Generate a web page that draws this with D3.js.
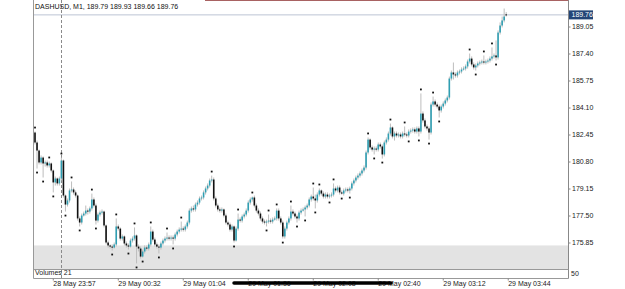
<!DOCTYPE html>
<html>
<head>
<meta charset="utf-8">
<script src="https://cdn.jsdelivr.net/npm/d3@7"></script>
<style>
  body { margin: 0; background: #fff; }
  svg { display: block; font-family: "Liberation Sans", Arial, sans-serif; }
</style>
</head>
<body>
<script>
// DATA (M1 candles)
const chartTitle = "DASHUSD, M1, 189.79 189.93 189.66 189.76";

const opens = [
  182.57,181.96,181.47,180.74,181.04,180.68,180.74,180.56,180.68,180.25,
  179.52,179.76,179.46,179.76,180.86,178.72,178.17,178.42,179.03,179.09,
  178.91,178.72,177.32,177.07,177.50,177.62,177.80,177.74,177.93,178.48,
  178.11,177.19,177.56,177.68,177.74,176.89,175.85,175.67,175.60,175.54,
  175.73,176.83,176.70,176.09,176.22,175.79,175.67,175.60,175.97,176.09,
  176.28,175.60,175.48,174.99,175.30,175.54,175.48,175.73,176.52,176.03,
  175.73,175.60,175.54,175.79,175.97,176.09,176.15,176.09,176.15,176.09,
  176.34,176.52,176.64,176.70,176.64,176.83,177.07,177.80,177.93,177.87,
  178.17,178.29,178.54,178.60,178.91,179.15,179.33,179.64,179.70,178.54,
  178.11,177.87,177.80,177.87,177.50,177.07,176.95,176.64,176.83,175.97,
  176.70,177.25,177.19,177.44,177.56,177.80,178.29,178.48,178.60,178.11,
  177.80,177.62,177.32,177.13,177.07,177.13,177.19,177.13,177.25,177.32,
  177.80,177.32,177.07,176.22,176.70,177.07,177.32,177.74,177.62,177.44,
  177.32,177.68,177.80,177.87,177.99,178.11,178.48,178.66,178.54,178.42,
  178.78,179.03,178.84,178.66,178.78,178.66,178.72,178.78,179.15,179.03,
  179.21,178.91,178.84,179.03,179.09,179.03,179.15,179.46,179.64,179.82,
  179.94,180.07,180.25,180.43,181.35,182.14,181.66,181.53,181.59,181.53,
  181.84,181.72,181.23,181.96,182.14,182.51,182.88,182.33,182.51,182.39,
  182.45,182.33,182.51,182.45,182.39,182.63,182.69,182.76,182.63,182.82,
  182.63,183.73,183.31,182.94,182.82,182.57,184.28,184.47,184.28,184.16,
  183.92,184.16,184.34,184.53,184.71,185.87,186.24,186.12,186.06,186.24,
  186.30,186.42,186.48,186.61,186.91,187.09,186.73,186.55,186.67,186.79,
  186.85,186.91,186.85,186.91,186.97,187.09,187.22,187.28,187.16,188.68,
  189.11,189.42,189.79
];
const highs = [
  182.63,182.08,181.53,181.17,181.11,180.86,180.86,180.80,180.74,180.31,
  179.88,179.82,179.88,181.04,180.92,178.78,178.54,179.15,179.58,179.21,
  179.03,178.78,177.44,177.62,177.74,178.11,177.93,178.05,178.84,178.60,
  178.23,177.68,177.80,177.87,177.80,176.95,175.97,175.73,175.73,175.85,
  177.32,176.95,176.77,176.34,176.28,175.91,175.79,176.09,176.22,176.77,
  176.34,175.73,175.60,175.42,175.67,175.67,175.85,176.83,176.64,176.15,
  175.85,175.73,175.91,176.09,176.22,176.46,176.28,176.28,176.28,176.46,
  176.64,176.77,177.13,176.83,176.95,177.19,177.93,178.05,178.11,178.29,
  178.42,178.66,178.72,179.03,179.27,179.46,179.76,179.94,179.82,178.66,
  178.23,177.99,177.99,177.93,177.62,177.19,177.07,176.95,176.89,176.83,
  177.62,177.38,177.56,177.68,177.93,178.42,178.60,178.66,178.72,178.23,
  177.93,177.74,177.44,177.25,177.25,177.56,177.32,177.38,177.44,177.93,
  177.93,177.44,177.19,176.83,177.19,177.44,178.11,177.87,177.74,177.56,
  177.80,177.93,177.99,178.11,178.23,178.60,178.78,179.21,178.78,178.91,
  179.15,179.09,178.97,178.91,178.91,178.84,178.91,179.46,179.27,179.33,
  179.33,179.03,179.15,179.21,179.21,179.27,179.58,179.76,179.94,180.07,
  180.19,180.37,180.56,181.47,182.27,182.21,181.78,181.72,181.72,181.96,
  181.96,181.84,182.08,182.27,182.63,183.12,182.94,182.63,182.63,182.57,
  182.57,182.63,182.94,182.57,182.76,182.82,182.88,182.88,182.94,182.94,
  184.96,183.86,183.43,183.06,182.94,184.41,184.77,184.59,184.41,184.28,
  184.28,184.47,184.65,184.83,185.99,186.36,186.85,186.24,186.36,186.42,
  186.55,186.61,186.73,187.03,187.40,187.22,186.85,186.79,186.91,186.97,
  187.03,187.28,187.03,187.09,187.22,187.77,187.40,188.20,188.81,189.30,
  189.66,190.15,189.93
];
const lows = [
  181.84,180.37,180.62,180.62,179.82,180.49,180.43,180.43,180.13,178.91,
  179.33,179.33,179.33,179.64,178.60,177.74,178.05,178.29,178.91,178.78,
  178.60,177.19,176.83,176.95,177.44,177.50,177.56,177.62,177.80,177.99,
  176.95,177.07,177.44,177.56,176.77,175.73,175.54,175.48,175.36,175.48,
  175.60,176.58,175.97,175.97,175.67,175.54,175.42,175.54,175.85,175.97,
  174.57,175.30,174.87,174.93,175.18,175.36,175.36,175.60,175.91,175.60,
  175.48,175.18,175.42,175.67,175.85,175.97,175.97,175.97,175.73,175.97,
  176.22,176.40,176.52,176.52,176.52,176.70,176.95,177.68,177.74,177.74,
  178.05,178.17,178.42,178.48,178.78,179.03,179.21,179.52,178.42,177.99,
  177.74,177.68,177.68,177.38,176.95,176.83,176.52,176.52,175.85,175.91,
  176.58,177.07,177.07,177.32,177.44,177.68,178.17,178.35,177.99,177.68,
  177.50,177.19,177.01,176.95,176.83,177.01,177.01,177.01,177.19,177.19,
  177.19,176.95,176.09,176.09,176.58,176.95,177.19,177.50,177.32,177.07,
  177.19,177.56,177.74,177.44,177.87,177.99,178.35,178.42,177.93,178.29,
  178.66,178.72,178.54,178.54,178.54,178.54,178.60,178.66,178.91,178.91,
  178.78,178.78,178.72,178.91,178.91,178.84,179.03,179.33,179.52,179.70,
  179.82,179.94,180.13,180.31,181.23,181.53,181.41,181.23,181.41,181.41,
  181.59,180.98,181.11,181.84,182.02,182.39,182.21,182.08,182.27,182.27,
  182.21,182.21,182.33,182.27,182.27,182.51,182.57,182.51,182.51,182.33,
  182.51,183.18,182.82,182.69,182.14,182.45,184.16,184.16,184.04,183.49,
  183.79,184.04,184.22,184.41,184.59,185.75,185.81,185.93,185.93,186.12,
  186.18,186.36,186.36,186.48,186.79,186.61,186.42,186.36,186.55,186.67,
  186.73,186.73,186.73,186.79,186.85,186.97,187.09,186.97,187.03,188.56,
  188.99,189.30,189.66
];
const closes = [
  181.96,181.47,180.74,181.04,180.68,180.74,180.56,180.68,180.25,179.52,
  179.76,179.46,179.76,180.86,178.72,178.17,178.42,179.03,179.09,178.91,
  178.72,177.32,177.07,177.50,177.62,177.80,177.74,177.93,178.48,178.11,
  177.19,177.56,177.68,177.74,176.89,175.85,175.67,175.60,175.54,175.73,
  176.83,176.70,176.09,176.22,175.79,175.67,175.60,175.97,176.09,176.28,
  175.60,175.48,174.99,175.30,175.54,175.48,175.73,176.52,176.03,175.73,
  175.60,175.54,175.79,175.97,176.09,176.15,176.09,176.15,176.09,176.34,
  176.52,176.64,176.70,176.64,176.83,177.07,177.80,177.93,177.87,178.17,
  178.29,178.54,178.60,178.91,179.15,179.33,179.64,179.70,178.54,178.11,
  177.87,177.80,177.87,177.50,177.07,176.95,176.64,176.83,175.97,176.70,
  177.25,177.19,177.44,177.56,177.80,178.29,178.48,178.60,178.11,177.80,
  177.62,177.32,177.13,177.07,177.13,177.19,177.13,177.25,177.32,177.80,
  177.32,177.07,176.22,176.70,177.07,177.32,177.74,177.62,177.44,177.32,
  177.68,177.80,177.87,177.99,178.11,178.48,178.66,178.54,178.42,178.78,
  179.03,178.84,178.66,178.78,178.66,178.72,178.78,179.15,179.03,179.21,
  178.91,178.84,179.03,179.09,179.03,179.15,179.46,179.64,179.82,179.94,
  180.07,180.25,180.43,181.35,182.14,181.66,181.53,181.59,181.53,181.84,
  181.72,181.23,181.96,182.14,182.51,182.88,182.33,182.51,182.39,182.45,
  182.33,182.51,182.45,182.39,182.63,182.69,182.76,182.63,182.82,182.63,
  183.73,183.31,182.94,182.82,182.57,184.28,184.47,184.28,184.16,183.92,
  184.16,184.34,184.53,184.71,185.87,186.24,186.12,186.06,186.24,186.30,
  186.42,186.48,186.61,186.91,187.09,186.73,186.55,186.67,186.79,186.85,
  186.91,186.85,186.91,186.97,187.09,187.22,187.28,187.16,188.68,189.11,
  189.42,189.66,189.76
];

// fractal markers (bar indices)
const fractalUp = [0,7,13,18,28,40,49,57,65,72,87,100,107,115,119,126,137,140,147,164,175,182,190,196,214,221,225];
const fractalDown = [1,4,9,15,22,30,38,46,50,53,61,68,98,114,122,129,133,138,145,151,155,167,171,184,189,194,199,217,227];

const priceTicks = [189.05, 187.40, 185.75, 184.10, 182.45, 180.80, 179.15, 177.50, 175.85];
const lastPrice = 189.76;
const timeLabels = ["28 May 23:57","29 May 00:32","29 May 01:04","29 May 01:36","29 May 02:08","29 May 02:40","29 May 03:12","29 May 03:44"];
const timeLabelBars = [9, 41, 73, 105, 137, 169, 201, 233];
const separatorBar = 13;
const shadedZone = [175.67, 174.26];
const volumeLabel = "Volumes 21";
const volumeAxisLabel = "50";

// LAYOUT
const w = 625, h = 289,
  left = 33.5, right = 568.5,
  mainBottom = 269.5, bottom = 278.5;

const svg = d3.select("body").append("svg")
  .attr("width", w)
  .attr("height", h);

const x = d3.scaleLinear().domain([0, closes.length - 1]).range([35, 506.2]);
const y = d3.scaleLinear().domain([175.85, 189.05]).range([242.5, 26.5]);

// shaded zone
svg.append("rect")
  .attr("x", left).attr("width", right - left)
  .attr("y", y(shadedZone[0]))
  .attr("height", mainBottom - y(shadedZone[0]))
  .attr("fill", "#e3e3e3");

// last price line
svg.append("line")
  .attr("x1", left).attr("x2", right)
  .attr("y1", y(lastPrice)).attr("y2", y(lastPrice))
  .attr("stroke", "#bcc4d4");

// dashed separator
svg.append("line")
  .attr("x1", Math.round(x(separatorBar)) + 0.5).attr("x2", Math.round(x(separatorBar)) + 0.5)
  .attr("y1", 0).attr("y2", bottom)
  .attr("stroke", "#8a8a8a")
  .attr("stroke-dasharray", "3,2");

// CANDLES
const bars = d3.range(closes.length);
const bullColor = "#2f9fb3", bearColor = "#111", wickColor = "#bdbdbd";

svg.append("g").selectAll("line")
  .data(bars).join("line")
  .attr("x1", d => x(d)).attr("x2", d => x(d))
  .attr("y1", d => y(highs[d])).attr("y2", d => y(lows[d]))
  .attr("stroke", wickColor)
  .attr("stroke-width", 1);

svg.append("g").selectAll("rect")
  .data(bars).join("rect")
  .attr("x", d => x(d) - 0.8)
  .attr("width", 1.6)
  .attr("y", d => y(Math.max(opens[d], closes[d])))
  .attr("height", d => Math.max(1, Math.abs(y(opens[d]) - y(closes[d]))))
  .attr("fill", d => closes[d] > opens[d] ? bullColor : (closes[d] < opens[d] ? bearColor : wickColor));

// fractals
svg.append("g").selectAll("rect")
  .data(fractalUp).join("rect")
  .attr("x", d => x(d) - 0.9).attr("y", d => y(highs[d]) - 4.9)
  .attr("width", 1.8).attr("height", 1.8)
  .attr("fill", "#111");

svg.append("g").selectAll("rect")
  .data(fractalDown).join("rect")
  .attr("x", d => x(d) - 0.9).attr("y", d => y(lows[d]) + 3.1)
  .attr("width", 1.8).attr("height", 1.8)
  .attr("fill", "#111");

// FRAME
svg.append("line")
  .attr("x1", 205).attr("x2", right).attr("y1", 0.5).attr("y2", 0.5)
  .attr("stroke", "#a86262");
svg.append("line")
  .attr("x1", left).attr("x2", left).attr("y1", 0).attr("y2", bottom)
  .attr("stroke", "#999");
svg.append("line")
  .attr("x1", right).attr("x2", right).attr("y1", 0).attr("y2", bottom)
  .attr("stroke", "#888");
svg.append("line")
  .attr("x1", left).attr("x2", right).attr("y1", mainBottom).attr("y2", mainBottom)
  .attr("stroke", "#999");
svg.append("line")
  .attr("x1", left).attr("x2", right).attr("y1", bottom).attr("y2", bottom)
  .attr("stroke", "#999");

// title
svg.append("text")
  .attr("x", 35).attr("y", 8.6)
  .attr("font-size", 7).attr("fill", "#111")
  .text(chartTitle);

// PRICE AXIS
const priceAxis = d3.axisRight(y)
  .tickValues(priceTicks)
  .tickFormat(d3.format(".2f"))
  .tickSize(2)
  .tickPadding(1.5);

const axisG = svg.append("g")
  .attr("transform", "translate(" + right + ",0)")
  .call(priceAxis);
axisG.select(".domain").remove();
axisG.selectAll("line").attr("stroke", "#888");
axisG.selectAll("text")
  .attr("font-size", 7)
  .attr("font-family", "Liberation Sans, Arial, sans-serif")
  .attr("fill", "#222");

// last price tag
svg.append("rect")
  .attr("x", right + 0.5).attr("y", y(lastPrice) - 4.5)
  .attr("width", 24).attr("height", 9)
  .attr("fill", "#234677");
svg.append("text")
  .attr("x", right + 3).attr("y", y(lastPrice) + 2.6)
  .attr("font-size", 7).attr("fill", "#fff")
  .text(d3.format(".2f")(lastPrice));

// VOLUME WINDOW
svg.append("text")
  .attr("x", 35).attr("y", 275)
  .attr("font-size", 7).attr("fill", "#222")
  .text(volumeLabel);
svg.append("text")
  .attr("x", right + 2.5).attr("y", 276)
  .attr("font-size", 7).attr("fill", "#222")
  .text(volumeAxisLabel);

// TIME AXIS
const timeG = svg.append("g");
timeG.selectAll("line")
  .data(timeLabelBars).join("line")
  .attr("x1", d => x(d)).attr("x2", d => x(d))
  .attr("y1", bottom).attr("y2", bottom + 2)
  .attr("stroke", "#888");
timeG.selectAll("text")
  .data(timeLabels).join("text")
  .attr("x", (d, i) => x(timeLabelBars[i]))
  .attr("y", 285.5)
  .attr("font-size", 7).attr("fill", "#222")
  .text(d => d);

// redaction stroke over the middle time labels
svg.append("line")
  .attr("x1", 234).attr("x2", 391)
  .attr("y1", 283).attr("y2", 283)
  .attr("stroke", "#000")
  .attr("stroke-width", 3.5)
  .attr("stroke-linecap", "round");
</script>
</body>
</html>
